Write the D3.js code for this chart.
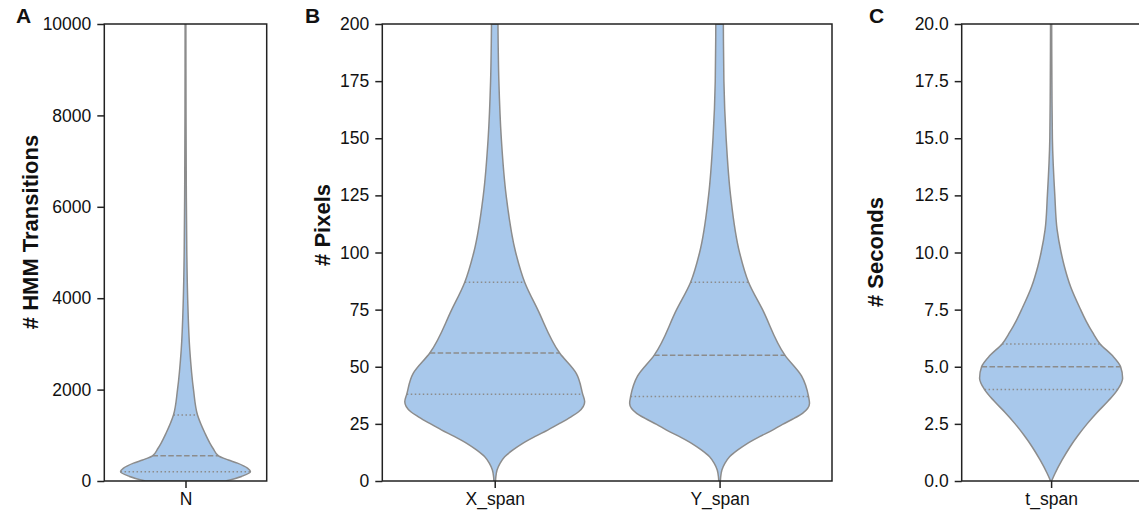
<!DOCTYPE html>
<html>
<head>
<meta charset="utf-8">
<script src="https://cdn.jsdelivr.net/npm/d3@7"></script>
<style>
  body { margin: 0; background: #fff; }
  svg { display: block; }
  text { font-family: "Liberation Sans", Arial, sans-serif; }
</style>
</head>
<body>
<div id="chart"></div>
<script>
// ---- data ----
// density is relative (1 = widest point of that violin)
var catsA = ['N'];
var ticksA = [0, 2000, 4000, 6000, 8000, 10000];
var nValues   = [0, 100, 200, 280, 390, 460, 550, 700, 825, 1045, 1445, 2000, 2865, 3960, 5000, 6500, 8000, 10000];
var nDensity  = [0.615, 0.862, 1.0, 0.954, 0.8, 0.66, 0.508, 0.43, 0.377, 0.3, 0.185, 0.123, 0.066, 0.034, 0.02, 0.012, 0.008, 0.006];
var nQuartiles = [200, 550, 1445];

var catsB = ['X_span', 'Y_span'];
var ticksB = [0, 25, 50, 75, 100, 125, 150, 175, 200];
var xsValues  = [0, 2, 4.8, 7.7, 10.6, 13.6, 16.5, 19.4, 22.3, 25.2, 28, 30.3, 34.7, 38, 47, 56, 75, 87, 100, 125, 150, 175, 200];
var xsDensity = [0.009, 0.013, 0.026, 0.059, 0.111, 0.203, 0.311, 0.444, 0.589, 0.722, 0.844, 0.933, 1.0, 0.978, 0.908, 0.722, 0.478, 0.333, 0.233, 0.127, 0.073, 0.046, 0.036];
var xsQuartiles = [38, 56, 87];
var ysValues  = [0, 2, 4.8, 7.7, 10.6, 13.6, 16.5, 19.4, 22.3, 24.8, 27.5, 29.6, 34, 37, 46, 55, 75, 87, 100, 125, 150, 175, 200];
var ysDensity = [0.009, 0.013, 0.026, 0.059, 0.111, 0.203, 0.311, 0.444, 0.589, 0.7, 0.833, 0.922, 1.0, 0.989, 0.911, 0.728, 0.478, 0.322, 0.222, 0.122, 0.073, 0.048, 0.042];
var ysQuartiles = [37, 55, 87];

var catsC = ['t_span'];
var ticksC = [0, 2.5, 5, 7.5, 10, 12.5, 15, 17.5, 20];
var tValues   = [0, 0.34, 0.92, 1.5, 2, 2.5, 3, 3.5, 4, 4.5, 5, 5.5, 6, 6.5, 7, 7.5, 8.5, 9.4, 10, 11, 12.5, 15, 17.5, 20];
var tDensity  = [0.007, 0.056, 0.154, 0.266, 0.378, 0.503, 0.643, 0.797, 0.93, 1.0, 0.972, 0.853, 0.685, 0.58, 0.49, 0.413, 0.273, 0.185, 0.14, 0.084, 0.052, 0.018, 0.011, 0.008];
var tQuartiles = [4, 5, 6];

// ---- layout ----
var W = 1139, H = 516;
var plotTop = 24, plotBottom = 481;
var fill = '#a8c8eb', edge = '#8c8c8c';

var svg = d3.select('#chart').append('svg')
    .attr('width', W)
    .attr('height', H);

var panels = [
    { letter: 'A', letterX: 16, x0: 104.3, x1: 266.7, label: '# HMM Transitions', labelX: 38, labelY: 232,
      cats: catsA, domain: [0, 10000], ticks: ticksA, fmt: d3.format('d'),
      violins: [{ values: nValues, density: nDensity, quartiles: nQuartiles }] },
    { letter: 'B', letterX: 305, x0: 382.3, x1: 832, label: '# Pixels', labelX: 330, labelY: 225,
      cats: catsB, domain: [0, 200], ticks: ticksB, fmt: d3.format('d'),
      violins: [{ values: xsValues, density: xsDensity, quartiles: xsQuartiles },
                { values: ysValues, density: ysDensity, quartiles: ysQuartiles }] },
    { letter: 'C', letterX: 869, x0: 961.7, x1: 1140.5, label: '# Seconds', labelX: 883, labelY: 252,
      cats: catsC, domain: [0, 20], ticks: ticksC, fmt: d3.format('.1f'),
      violins: [{ values: tValues, density: tDensity, quartiles: tQuartiles }] }
];

panels.forEach(function(p, pi) {
    var g = svg.append('g');

    var x = d3.scalePoint().domain(p.cats).range([p.x0, p.x1]).padding(0.5);
    var y = d3.scaleLinear().domain(p.domain).range([plotBottom, plotTop]);
    var w = d3.scaleLinear().domain([0, 1]).range([0, x.step() * 0.4]);

    var clipId = 'clip' + pi;
    svg.append('clipPath').attr('id', clipId)
      .append('rect')
        .attr('x', p.x0).attr('y', plotTop)
        .attr('width', p.x1 - p.x0).attr('height', plotBottom - plotTop);

    var vg = g.append('g').attr('clip-path', 'url(#' + clipId + ')');

    p.violins.forEach(function(v, i) {
        var cx = x(p.cats[i]);
        var pts = v.values.map(function(val, j) { return { v: val, d: v.density[j] }; });

        var area = d3.area()
            .curve(d3.curveMonotoneY)
            .y(function(d) { return y(d.v); })
            .x0(function(d) { return cx - w(d.d); })
            .x1(function(d) { return cx + w(d.d); });

        vg.append('path')
            .attr('d', area(pts))
            .attr('fill', fill)
            .attr('stroke', edge)
            .attr('stroke-width', 1.5)
            .attr('stroke-linejoin', 'round');

        var dens = d3.scaleLinear().domain(v.values).range(v.density);
        vg.selectAll('.q' + i)
            .data(v.quartiles)
          .enter().append('line')
            .attr('x1', function(q) { return cx - w(dens(q)); })
            .attr('x2', function(q) { return cx + w(dens(q)); })
            .attr('y1', function(q) { return y(q); })
            .attr('y2', function(q) { return y(q); })
            .attr('stroke', edge)
            .attr('stroke-width', 1.5)
            .attr('stroke-dasharray', function(q, k) { return k === 1 ? '5.5,2.4' : '1.5,2.5'; });
    });

    // axes
    var ya = g.append('g')
        .attr('transform', 'translate(' + p.x0 + ',0)')
        .call(d3.axisLeft(y).tickValues(p.ticks).tickFormat(p.fmt).tickSize(7).tickPadding(6));
    var xa = g.append('g')
        .attr('transform', 'translate(0,' + plotBottom + ')')
        .call(d3.axisBottom(x).tickSize(7).tickPadding(5));

    [ya, xa].forEach(function(a) {
        a.select('.domain').remove();
        a.selectAll('.tick line').attr('stroke', '#222').attr('stroke-width', 1.5);
        a.selectAll('.tick text').attr('fill', '#111').style('font-size', '17.5px');
    });

    g.append('rect')
        .attr('x', p.x0).attr('y', plotTop)
        .attr('width', p.x1 - p.x0).attr('height', plotBottom - plotTop)
        .attr('fill', 'none')
        .attr('stroke', '#222')
        .attr('stroke-width', 1.5);

    g.append('text')
        .attr('transform', 'translate(' + p.labelX + ',' + p.labelY + ') rotate(-90)')
        .attr('text-anchor', 'middle')
        .style('font-size', '22px')
        .style('font-weight', 'bold')
        .attr('fill', '#111')
        .text(p.label);

    g.append('text')
        .attr('x', p.letterX).attr('y', 22.7)
        .style('font-size', '21px')
        .style('font-weight', 'bold')
        .attr('fill', '#111')
        .text(p.letter);
});
</script>
</body>
</html>
